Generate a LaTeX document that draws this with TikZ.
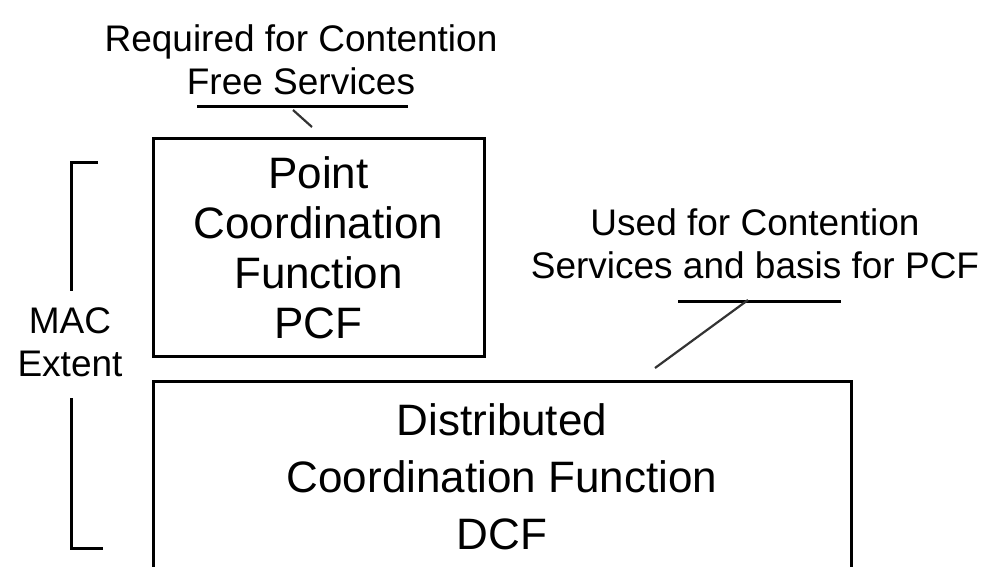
\documentclass[tikz,border=0pt]{standalone}
\usepackage{fontspec}
\setmainfont{Liberation Sans}
\begin{document}
\begin{tikzpicture}[x=1pt,y=-1pt,
  frame/.style={draw=black, line width=3pt},
  boxtext/.style={font=\fontsize{44}{50}\selectfont, align=center, inner sep=0pt},
  dcftext/.style={font=\fontsize{44}{57}\selectfont, align=center, inner sep=0pt},
  note/.style={font=\fontsize{37}{43}\selectfont, align=center, inner sep=0pt},
  rule/.style={draw=black, line width=3pt},
  leader/.style={draw=black!80, line width=2.2pt},
  bracket/.style={draw=black, line width=3pt}]
\useasboundingbox (0,0) rectangle (994,566);

% PCF box
\node[frame, minimum width=331pt, minimum height=218pt, inner sep=0pt] (pcf) at (318.5,247.5) {};
\node[boxtext] (pcftext) at (pcf.center) {Point\\Coordination\\Function\\PCF};

% DCF open box
\coordinate (dbl) at (153.5,570);
\coordinate (dtl) at (153.5,381.5);
\coordinate (dtr) at (851.5,381.5);
\coordinate (dbr) at (851.5,570);
\draw[frame] (dbl) -- (dtl) -- (dtr) -- (dbr);
\node[dcftext] (dcf) at (502,477) {Distributed\\Coordination Function\\DCF};

% MAC extent bracket
\node[note] (mac) at (70,342) {MAC\\Extent};
\coordinate (bt1) at (98,162);
\coordinate (bt2) at (71,162);
\coordinate (bt3) at (71,291);
\coordinate (bb1) at (71,398);
\coordinate (bb2) at (71,548);
\coordinate (bb3) at (103,548);
\draw[bracket] (bt1) -- (bt2) -- (bt3);
\draw[bracket] (bb1) -- (bb2) -- (bb3);

% annotation for PCF
\node[note] (req) at (301,60) {Required for Contention\\Free Services};
\coordinate (ru1) at (197,106);
\coordinate (ru2) at (408,106);
\draw[rule] (ru1) -- (ru2);
\coordinate (rl1) at (293,110);
\coordinate (rl2) at (312,127);
\draw[leader] (rl1) -- (rl2);

% annotation for DCF
\node[note] (used) at (755,244) {Used for Contention\\Services and basis for PCF};
\coordinate (uu1) at (678,301);
\coordinate (uu2) at (841,301);
\draw[rule] (uu1) -- (uu2);
\coordinate (ul1) at (748,300);
\coordinate (ul2) at (655,368);
\draw[leader] (ul1) -- (ul2);
\end{tikzpicture}
\end{document}
